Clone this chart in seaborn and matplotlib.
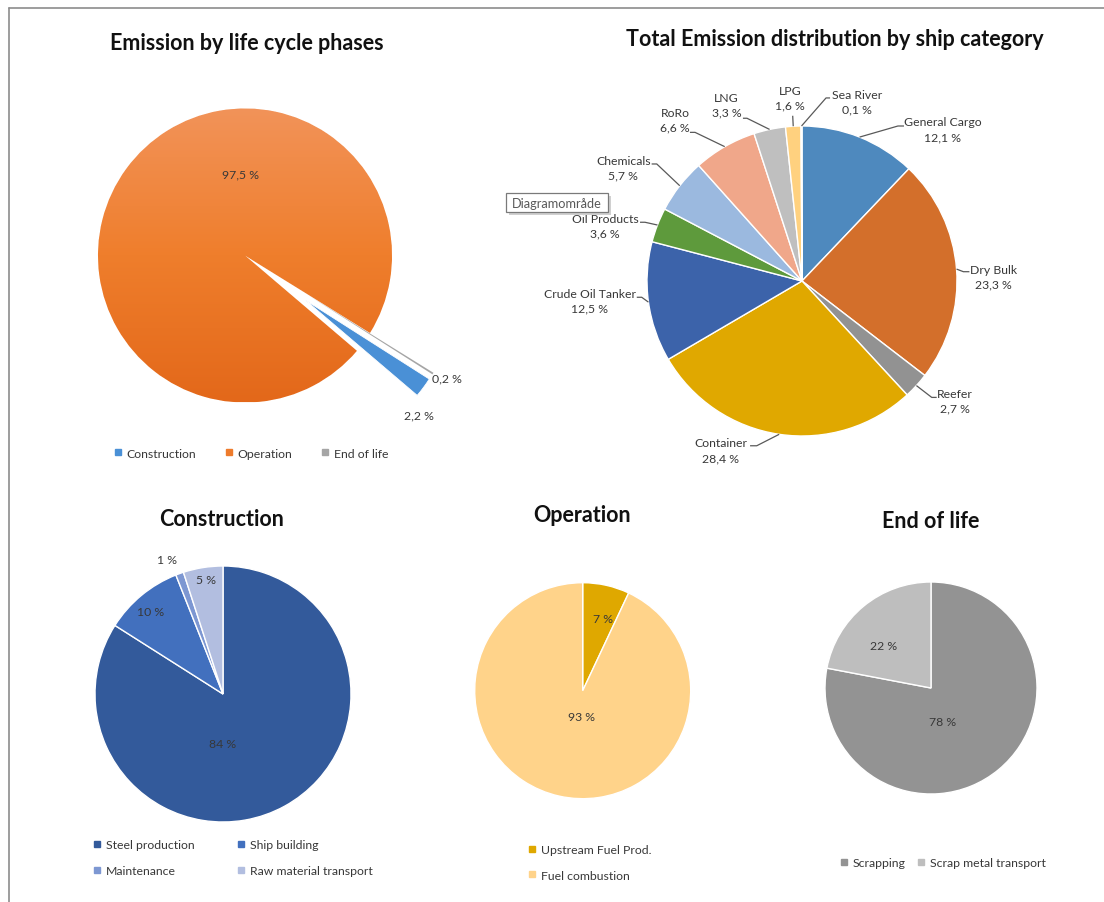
import numpy as np
import seaborn as sns
import matplotlib.pyplot as plt
from matplotlib.lines import Line2D
from matplotlib.patches import Rectangle
from matplotlib.colors import LinearSegmentedColormap

# ---- data -------------------------------------------------------------
phase_names = ["Construction", "Operation", "End of life"]
phase_share = [2.2, 97.5, 0.2]

ship_names = ["General Cargo", "Dry Bulk", "Reefer", "Container", "Crude Oil Tanker",
              "Oil Products", "Chemicals", "RoRo", "LNG", "LPG", "Sea River"]
ship_share = [12.1, 23.3, 2.7, 28.4, 12.5, 3.6, 5.7, 6.6, 3.3, 1.6, 0.1]

constr_names = ["Steel production", "Ship building", "Maintenance", "Raw material transport"]
constr_share = [84, 10, 1, 5]

oper_names = ["Upstream Fuel Prod.", "Fuel combustion"]
oper_share = [7, 93]

eol_names = ["Scrapping", "Scrap metal transport"]
eol_share = [78, 22]

# ---- colours ------------------------------------------------------------
phase_colors = ["#4A90D6", "#EE7B2C", "#A5A5A5"]
ship_colors = ["#4E89BE", "#D36F2B", "#929292", "#E0A800", "#3C63AA",
               "#5E9A3C", "#9BB9DF", "#F0A78A", "#BFBFBF", "#FFD17F", "#C7D6EC"]
constr_colors = ["#335A9B", "#4270BE", "#7D97D2", "#B2BEE0"]
oper_colors = ["#DFA800", "#FFD38A"]
eol_colors = ["#939393", "#BEBEBE"]

TXT = "#383838"
LBL = 8.8
TITLE = 15.5

sns.set_theme(style="white")
plt.rcParams["font.family"] = ["Lato", "DejaVu Sans"]

W, H = 1104, 903
fig = plt.figure(figsize=(W / 100, H / 100), dpi=100)
fig.patch.set_facecolor("white")


def fpos(x, y):
    """pixel position (origin top-left) -> figure fraction"""
    return x / W, 1 - y / H


def pie_axes(cx, cy, r, half=1.9):
    side = 2 * half * r
    ax = fig.add_axes([(cx - half * r) / W, 1 - (cy + half * r) / H, side / W, side / H])
    return ax, half


def finish(ax, half):
    ax.set_xlim(-half, half)
    ax.set_ylim(-half, half)
    ax.set_aspect("equal")
    ax.axis("off")


def fmt(v, dec):
    return f"{v:.{dec}f} %".replace(".", ",")


def square_legend(names, colors, center, ncol, colsp, labsp=0.5, order=None):
    handles = [Line2D([], [], marker="s", linestyle="none", markersize=4.6,
                      markerfacecolor=c, markeredgecolor=c) for c in colors]
    labels = list(names)
    if order is not None:
        handles = [handles[i] for i in order]
        labels = [labels[i] for i in order]
    leg = fig.legend(handles, labels, loc="center", bbox_to_anchor=fpos(*center),
                     ncol=ncol, frameon=False, fontsize=LBL, handlelength=0.6,
                     handletextpad=0.4, columnspacing=colsp, labelspacing=labsp,
                     borderpad=0, borderaxespad=0)
    for t in leg.get_texts():
        t.set_color(TXT)
    return leg


# ---- frame lines --------------------------------------------------------
fig.add_artist(Line2D([9 / W, 1], [1 - 9 / H, 1 - 9 / H], color="#8C8C8C", lw=1.2))
fig.add_artist(Line2D([9 / W, 9 / W], [0, 1 - 9 / H], color="#8C8C8C", lw=1.2))

# ---- titles -------------------------------------------------------------
for text, (x, y) in [("Emission by life cycle phases", (247, 44)),
                     ("Total Emission distribution by ship category", (835, 40)),
                     ("Construction", (222, 519)),
                     ("Operation", (582, 516)),
                     ("End of life", (931, 521))]:
    fig.text(*fpos(x, y), text, ha="center", va="center", fontsize=TITLE,
             fontweight="bold", color="#111111")

# ---- life cycle phases --------------------------------------------------
ax, half = pie_axes(245, 256.5, 147)
wedges, _ = ax.pie(phase_share, colors=phase_colors, startangle=-32.5, counterclock=False,
                   explode=[0.51, 0, 0.51],
                   wedgeprops=dict(edgecolor="white", linewidth=0.6))
wedges[2].set_edgecolor("none")
grad = np.linspace(0, 1, 256).reshape(-1, 1)
cmap = LinearSegmentedColormap.from_list("op", ["#F29359", "#EF7E2C", "#E3681A"])
im = ax.imshow(grad, cmap=cmap, extent=(-1, 1, -1, 1), zorder=1.5, aspect="auto")
im.set_clip_path(wedges[1])
phase_label_pos = [(1.186, -1.085), (-0.034, 0.554), (1.372, -0.835)]
for v, (x, y) in zip(phase_share, phase_label_pos):
    ax.text(x, y, fmt(v, 1), ha="center", va="center", fontsize=LBL, color=TXT, zorder=5)
finish(ax, half)
square_legend(phase_names, phase_colors, (251, 454), ncol=3, colsp=2.4)

# ---- ship categories ----------------------------------------------------
ax, half = pie_axes(802, 282, 155)
wedges, _ = ax.pie(ship_share, colors=ship_colors, startangle=90, counterclock=False,
                   wedgeprops=dict(edgecolor="white", linewidth=1.0))
ship_label_pos = [(0.908, 0.979), (1.234, 0.029), (0.987, -0.774), (-0.523, -1.092),
                  (-1.368, -0.129), (-1.271, 0.355), (-1.153, 0.731), (-0.819, 1.040),
                  (-0.486, 1.137), (-0.077, 1.183), (0.353, 1.157)]
leader_elbow = [(0.619, 1.0), (1.041, 0.060), (0.837, -0.751), (-0.292, -1.063),
                (-1.034, -0.105), (-1.013, 0.379), (-0.937, 0.755), (-0.690, 0.959),
                (-0.355, 1.050), (-0.060, 1.066), (0.155, 1.181)]
leader_end = [(0.658, 1.0), (1.080, 0.060), (0.869, -0.751), (-0.335, -1.063),
              (-1.066, -0.105), (-1.045, 0.379), (-0.970, 0.755), (-0.723, 0.959),
              (-0.381, 1.050), (-0.060, 1.066), (0.181, 1.181)]
for w, name, v, lp, el, en in zip(wedges, ship_names, ship_share, ship_label_pos,
                                   leader_elbow, leader_end):
    mid = np.deg2rad((w.theta1 + w.theta2) / 2)
    ex, ey = np.cos(mid), np.sin(mid)
    ax.plot([ex, el[0], en[0]], [ey, el[1], en[1]], color="#595959", lw=0.9,
            solid_capstyle="butt", clip_on=False, zorder=3)
    ax.text(lp[0], lp[1], f"{name}\n{fmt(v, 1)}", ha="center", va="center",
            fontsize=LBL, color=TXT, linespacing=1.4, zorder=5)
finish(ax, half)

# chart-area tooltip: shadow, box, caption
x0, y0, bw, bh = 506, 194, 102, 19
for dx, fc, ec in [(3, "#D0D0D0", "none"), (0, "white", "#7A7A7A")]:
    fig.add_artist(Rectangle(fpos(x0 + dx, y0 + bh + dx), bw / W, bh / H,
                             transform=fig.transFigure, fc=fc, ec=ec, lw=0.9,
                             zorder=9 + (dx == 0)))
fig.text(*fpos(x0 + bw / 2, y0 + bh / 2), "Diagramområde", ha="center", va="center",
         fontsize=LBL + 0.4, color="#595959", zorder=11)

# ---- construction -------------------------------------------------------
ax, half = pie_axes(223, 695, 128)
wedges, _ = ax.pie(constr_share, colors=constr_colors, startangle=90, counterclock=False,
                   wedgeprops=dict(edgecolor="white", linewidth=1.0))
constr_label_pos = [(0.0, -0.383), (-0.565, 0.646), (-0.435, 1.049), (-0.133, 0.893)]
for v, (x, y) in zip(constr_share, constr_label_pos):
    ax.text(x, y, fmt(v, 0), ha="center", va="center", fontsize=LBL, color=TXT, zorder=5)
finish(ax, half)
square_legend(constr_names, constr_colors, (233, 858.5), ncol=2, colsp=3.5, labsp=1.2,
              order=[0, 2, 1, 3])

# ---- operation ----------------------------------------------------------
ax, half = pie_axes(582.7, 691.7, 108)
wedges, _ = ax.pie(oper_share, colors=oper_colors, startangle=90, counterclock=False,
                   wedgeprops=dict(edgecolor="white", linewidth=1.0))
oper_label_pos = [(0.185, 0.664), (-0.009, -0.237)]
for v, (x, y) in zip(oper_share, oper_label_pos):
    ax.text(x, y, fmt(v, 0), ha="center", va="center", fontsize=LBL, color=TXT, zorder=5)
finish(ax, half)
square_legend(oper_names, oper_colors, (589.7, 863.3), ncol=1, colsp=1.0, labsp=1.2)

# ---- end of life --------------------------------------------------------
ax, half = pie_axes(931, 689, 106)
wedges, _ = ax.pie(eol_share, colors=eol_colors, startangle=90, counterclock=False,
                   wedgeprops=dict(edgecolor="white", linewidth=1.0))
eol_label_pos = [(0.11, -0.318), (-0.45, 0.40)]
for v, (x, y) in zip(eol_share, eol_label_pos):
    ax.text(x, y, fmt(v, 0), ha="center", va="center", fontsize=LBL, color=TXT, zorder=5)
finish(ax, half)
square_legend(eol_names, eol_colors, (942.7, 863.3), ncol=2, colsp=1.0)

fig.savefig("out.png", dpi=100, facecolor="white")
